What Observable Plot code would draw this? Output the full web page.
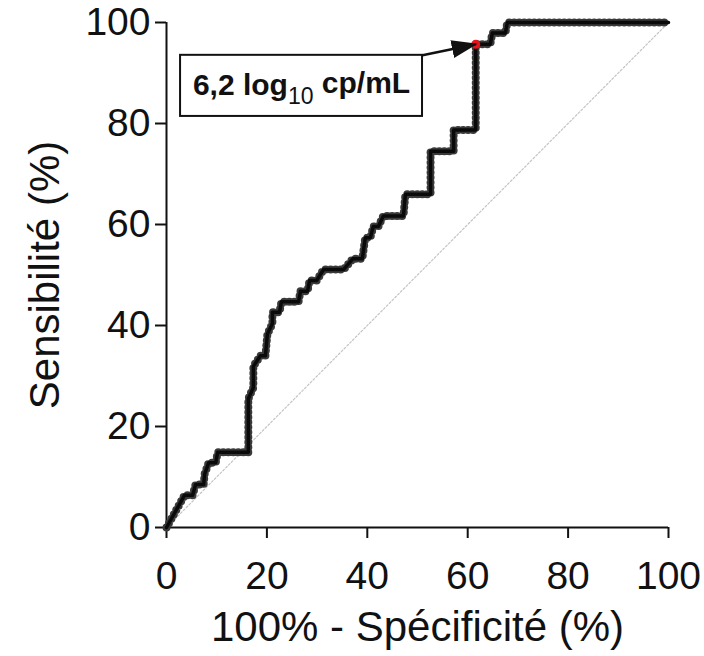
<!DOCTYPE html>
<html>
<head>
<meta charset="utf-8">
<script src="https://cdn.jsdelivr.net/npm/d3@7"></script>
<script src="https://cdn.jsdelivr.net/npm/@observablehq/plot@0.6"></script>
<style>
  html, body { margin: 0; padding: 0; background: #fff; }
  #chart { width: 704px; height: 656px; }
</style>
</head>
<body>
<div id="chart"></div>
<script>
// ROC curve: 100% - specificity (x) vs sensitivity (y), in %
const fpr  = [0, 3.6, 5.2, 5.8, 7.4, 7.6, 8.4, 9.8, 10.2, 16.3, 16.3, 17.3, 17.3, 18.7, 19.7, 20.1, 21.1, 21.1, 22.5, 22.9, 26.3, 26.7, 28.1, 28.5, 29.9, 31.3, 35.3, 37.1, 39.0, 39.6, 40.6, 41.2, 42.2, 43.2, 47.2, 47.6, 52.6, 52.6, 57.2, 57.2, 61.6, 61.6, 64.5, 64.9, 67.5, 67.9, 100];
const sens = [0, 6.4, 6.4, 8.5, 8.5, 10.6, 12.8, 12.8, 14.9, 14.9, 25.5, 27.7, 31.9, 34.0, 34.0, 38.3, 40.4, 42.6, 42.6, 44.7, 44.7, 46.8, 46.8, 48.9, 48.9, 51.1, 51.1, 53.2, 53.2, 57.4, 57.4, 59.6, 59.6, 61.7, 61.7, 66.0, 66.0, 74.5, 74.5, 78.7, 78.7, 95.7, 95.7, 97.9, 97.9, 100, 100];

// optimal cut-off point
const cutoffFpr = [61.6];
const cutoffSens = [95.7];
const cutoffLabel = "6,2 log10 cp/mL";

// reference diagonal
const diagX = [0, 100];
const diagY = [0, 100];

const ticks = [0, 20, 40, 60, 80, 100];
const xTitle = "100% - Spécificité (%)";
const yTitle = "Sensibilité (%)";

// annotation box (layout, in data units)
const boxX1 = [2.8], boxX2 = [51], boxY1 = [81.4], boxY2 = [93.5];

const roc = fpr.map((x, i) => ({x, y: sens[i]}));
const diag = diagX.map((x, i) => ({x, y: diagY[i]}));
const cut = cutoffFpr.map((x, i) => ({x, y: cutoffSens[i]}));
const box = boxX1.map((x1, i) => ({x1, x2: boxX2[i], y1: boxY1[i], y2: boxY2[i], cx: (x1 + boxX2[i]) / 2, cy: (boxY1[i] + boxY2[i]) / 2}));
const arrow = box.map((b, i) => ({x1: b.x2, y1: b.y2, x2: cut[i].x, y2: cut[i].y}));

const plot = Plot.plot({
  width: 704,
  height: 656,
  marginLeft: 166,
  marginRight: 36,
  marginTop: 22,
  marginBottom: 129,
  style: {fontFamily: "'Liberation Sans', Arial, sans-serif", fontSize: "39px", color: "#111", background: "#fff"},
  x: {domain: [0, 100]},
  y: {domain: [0, 100]},
  marks: [
    Plot.line(diag, {x: "x", y: "y", stroke: "#c4c4c4", strokeWidth: 1.2, strokeDasharray: "2,2"}),
    Plot.axisX({ticks, tickSize: 11, tickPadding: 23, strokeWidth: 2, label: null, fontSize: 39}),
    Plot.axisY({ticks, tickSize: 11, tickPadding: 5, strokeWidth: 2, label: null, fontSize: 39}),
    Plot.ruleY([0], {strokeWidth: 2, stroke: "#111"}),
    Plot.ruleX([0], {strokeWidth: 2, stroke: "#111"}),
    Plot.line(roc, {x: "x", y: "y", stroke: "#3a3a3a", strokeWidth: 8, strokeDasharray: "0,5", strokeLinecap: "round"}),
    Plot.line(roc, {x: "x", y: "y", stroke: "#0a0a0a", strokeWidth: 3.5}),
    Plot.dot(cut, {x: "x", y: "y", r: 4.5, fill: "#e8141c", stroke: "none"}),
    Plot.rect(box, {x1: "x1", x2: "x2", y1: "y1", y2: "y2", fill: "white", stroke: "#111", strokeWidth: 2}),
    Plot.link(arrow, {x1: "x1", y1: "y1", x2: "x2", y2: "y2", stroke: "#111", strokeWidth: 2.5, className: "annot-arrow"}),
    Plot.text(box, {x: "cx", y: "cy", text: () => cutoffLabel, fontSize: 30, fontWeight: "bold", fill: "#111", className: "annot-text"}),
    Plot.text([xTitle], {frameAnchor: "bottom", dy: 113, fontSize: 42, fill: "#111"}),
    Plot.text([yTitle], {frameAnchor: "left", textAnchor: "middle", rotate: -90, dx: -121, fontSize: 42, fill: "#111"})
  ]
});

// filled arrowhead
const svg = d3.select(plot);
const defs = svg.insert("defs", ":first-child");
defs.append("marker")
  .attr("id", "ah")
  .attr("markerUnits", "userSpaceOnUse")
  .attr("viewBox", "0 0 26 18")
  .attr("refX", 24).attr("refY", 9)
  .attr("markerWidth", 26).attr("markerHeight", 18)
  .attr("orient", "auto")
  .append("path").attr("d", "M0,0L26,9L0,18Z").attr("fill", "#111");
svg.selectAll(".annot-arrow path").attr("marker-end", "url(#ah)");

// subscript in label
svg.selectAll(".annot-text text").each(function () {
  const t = d3.select(this);
  const m = t.text().match(/^(.*log)(10)(.*)$/);
  if (!m) return;
  t.text(null);
  t.append("tspan").text(m[1]);
  t.append("tspan").attr("font-size", 23).attr("font-weight", "normal").attr("dy", "0.35em").text(m[2]);
  t.append("tspan").attr("dy", "-0.35em").text(m[3]);
});

document.getElementById("chart").appendChild(plot);
</script>
</body>
</html>
